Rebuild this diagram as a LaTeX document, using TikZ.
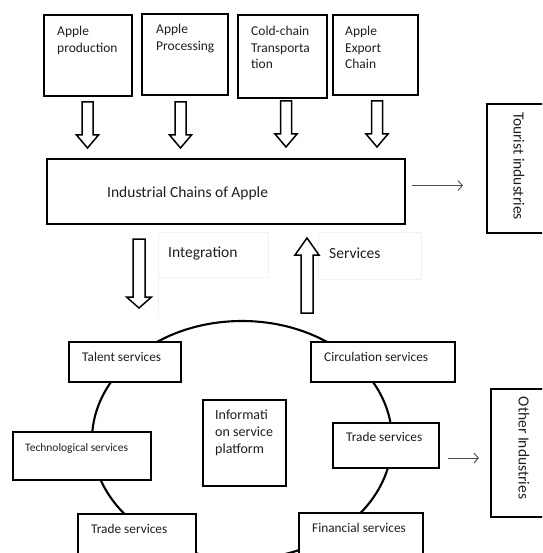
\documentclass[tikz,border=0pt]{standalone}
\usepackage{fontspec}
\setmainfont{Carlito}
\usetikzlibrary{arrows.meta,calc}
\newcommand\hollowarrow[6]{% x, start, tip, half shaft, half head, head length (signed)
  \draw[blk] ({#1-#4},{#2}) -- ({#1+#4},{#2}) -- ({#1+#4},{#3-(#6)}) -- ({#1+#5},{#3-(#6)})
    -- ({#1},{#3}) -- ({#1-#5},{#3-(#6)}) -- ({#1-#4},{#3-(#6)}) -- cycle;}
\begin{document}
\begin{tikzpicture}[x=1pt,y=-1pt,
  box/.style={draw=black, line width=2.1pt, fill=white, rectangle, inner sep=0pt, anchor=north west},
  lbl/.style={inner sep=0pt, text=black!88, align=left},
  topfont/.style={font=\fontsize{13.5}{16.5}\selectfont},
  svcfont/.style={font=\fontsize{13.3}{16}\selectfont},
  bigfont/.style={font=\fontsize{15.5}{18}\selectfont},
  blk/.style={draw=black, line width=1.5pt, fill=white, line join=miter},
  thinarr/.style={draw=black!70, line width=0.9pt, -{Straight Barb[length=4.5pt,width=10pt]}},
  faint/.style={draw=black!5, line width=0.6pt},
  ring/.style={draw=black, line width=2.1pt}]
\useasboundingbox (0,0) rectangle (542,553);
\clip (0,0) rectangle (542,553);
\fill[white] (0,0) rectangle (542,553);

% faint text-box remnants
\draw[faint] (158,232) -- (268,232) -- (268,277) -- (158,277);
\draw[faint] (158,232) -- (158,318);
\draw[faint] (318,232) -- (421,232) -- (421,279) -- (318,279) -- cycle;

% top boxes
\node[box, minimum width=88pt, minimum height=81pt] (b1) at (43,14) {};
\node[box, minimum width=86pt, minimum height=81pt] (b2) at (141,13) {};
\node[box, minimum width=89pt, minimum height=83pt] (b3) at (237,14) {};
\node[box, minimum width=85pt, minimum height=80pt] (b4) at (332,14) {};
\node[lbl, topfont, anchor=north west] (b1t) at (57,26) {Apple\\production};
\node[lbl, topfont, anchor=north west] (b2t) at (156,24) {Apple\\Processing};
\node[lbl, topfont, anchor=north west] (b3t) at (251,26) {Cold-chain\\Transporta\\tion};
\node[lbl, topfont, anchor=north west] (b4t) at (345,26) {Apple\\Export\\Chain};

% block arrows into the chain
\hollowarrow{87.5}{102}{148}{5.5}{11}{13}
\hollowarrow{180.5}{102}{148}{5.5}{11}{13}
\hollowarrow{286}{101}{147}{5.5}{11}{13}
\hollowarrow{377}{101}{147}{5.5}{11}{13}

% industrial chain
\node[box, minimum width=358pt, minimum height=65pt] (big) at (46,158) {};
\node[lbl, bigfont, anchor=base west] (bigt) at (107,197) {Industrial Chains of Apple};

% tourist industries
\node[box, minimum width=80pt, minimum height=129pt] (tour) at (486,103) {};
\node[lbl, bigfont, rotate=-90] (tourt) at (519,166) {Tourist industries};
\draw[thinarr, shorten <=6pt, shorten >=23pt] ([yshift=6pt]big.east) -- ([yshift=6pt]big.east -| tour.west);

% integration / services
\hollowarrow{139}{239}{308}{6}{12.5}{11}
\hollowarrow{307}{313}{238}{6}{12}{-17}
\node[lbl, bigfont, anchor=base west] (integ) at (168,257) {Integration};
\node[lbl, bigfont, anchor=base west] (serv) at (329,258) {Services};

% service ring
\draw[ring] (242,440) ellipse [x radius=150pt, y radius=119pt];

\node[box, minimum width=112pt, minimum height=40pt] (tal) at (68,341) {};
\node[lbl, svcfont, anchor=base west] (talt) at (82,361.5) {Talent services};
\node[box, minimum width=144pt, minimum height=40pt] (circ) at (310,341) {};
\node[lbl, svcfont, anchor=base west] (circt) at (324,361.5) {Circulation services};
\node[box, minimum width=138pt, minimum height=48pt] (tech) at (12,431) {};
\node[lbl, font=\fontsize{11.5}{14}\selectfont, anchor=base west] (techt) at (25,451) {Technological services};
\node[box, minimum width=106pt, minimum height=45pt] (trr) at (332,422) {};
\node[lbl, svcfont, anchor=base west] (trrt) at (346,441.5) {Trade services};
\node[box, minimum width=83pt, minimum height=86pt] (info) at (202,399) {};
\node[lbl, font=\fontsize{14}{17}\selectfont, anchor=north west] (infot) at (215,410) {Informati\\on service\\platform};
\node[box, minimum width=118pt, minimum height=70pt] (trl) at (77,513) {};
\node[lbl, svcfont, anchor=base west] (trlt) at (91,533.5) {Trade services};
\node[box, minimum width=124pt, minimum height=70pt] (fin) at (298,512) {};
\node[lbl, svcfont, anchor=base west] (fint) at (312,532.5) {Financial services};

% other industries
\node[box, minimum width=80pt, minimum height=128pt] (oth) at (490,388) {};
\node[lbl, bigfont, rotate=-90] (otht) at (524,448) {Other Industries};
\draw[thinarr, shorten <=8pt, shorten >=11pt] ([yshift=-12.5pt]trr.east) -- ([yshift=-12.5pt]trr.east -| oth.west);
\end{tikzpicture}
\end{document}
